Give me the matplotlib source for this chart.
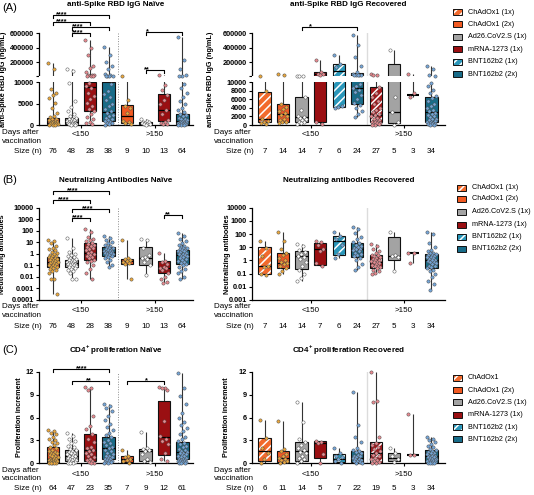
import numpy as np
import matplotlib.pyplot as plt
from matplotlib.patches import Rectangle
from matplotlib.transforms import blended_transform_factory
from matplotlib.ticker import NullLocator

plt.rcParams['font.family'] = ['Liberation Sans', 'DejaVu Sans']
plt.rcParams['mathtext.fontset'] = 'custom'
plt.rcParams['mathtext.rm'] = 'Liberation Sans:bold'
plt.rcParams['mathtext.bf'] = 'Liberation Sans:bold'
plt.rcParams['hatch.linewidth'] = 1.1

### Data
legend_ab = ['ChAdOx1 (1x)', 'ChAdOx1 (2x)', 'Ad26.CoV2.S (1x)', 'mRNA-1273 (1x)', 'BNT162b2 (1x)', 'BNT162b2 (2x)']
legend_c = ['ChAdOx1', 'ChAdOx1 (2x)', 'Ad26.CoV2.S (1x)', 'mRNA-1273 (1x)', 'BNT162b2 (1x)', 'BNT162b2 (2x)']
period_labels = ['<150', '>150']

n_ab_naive = [76, 48, 28, 38, 9, 10, 13, 64]
n_ab_rec = [7, 14, 14, 7, 6, 24, 27, 5, 3, 34]
n_c_naive = [64, 47, 23, 35, 7, 9, 12, 61]
n_c_rec = [6, 11, 14, 5, 7, 22, 19, 5, 3, 34]

# box stats: (min, q1, median, q3, max)
a_naive_stats = [(30, 150, 500, 1550, 195000), (40, 250, 650, 1550, 110000), (250, 3300, 8900, 10000, 500000),
                 (100, 1000, 3000, 10000, 410000), (300, 500, 2000, 4700, 15000), (50, 150, 350, 700, 1300),
                 (150, 1000, 3500, 7200, 20000), (50, 200, 900, 2600, 550000)]
a_naive_pts = [
    [195000, 100000, 8300, 7400, 6900, 6300, 5100, 3900, 2800, 2200, 1800, 1500, 1300, 1100, 950, 800, 700, 600,
     500, 420, 350, 300, 250, 200, 150, 100, 60, 30],
    [110000, 80000, 9800, 5600, 4300, 3200, 2500, 2000, 1700, 1500, 1300, 1100, 950, 850, 750, 650, 550, 480, 400,
     340, 280, 220, 170, 120, 80, 40],
    [500000, 400000, 300000, 150000, 120000, 70000, 25000, 20000, 18000, 15000, 13000, 12000, 9800, 9000, 8500,
     7500, 6800, 6000, 5200, 4500, 3800, 3200, 2600, 1900, 1300, 800, 500, 250],
    [410000, 300000, 200000, 150000, 100000, 40000, 20000, 15000, 13000, 12000, 11000, 9500, 8000, 7200, 6500, 5800,
     5000, 4400, 3800, 3200, 2800, 2400, 2000, 1700, 1400, 1100, 900, 700, 500, 350, 200, 100],
    [15000, 5800, 4500, 3900, 2800, 900, 700, 500, 300],
    [1300, 1000, 800, 700, 500, 400, 300, 200, 150, 50],
    [20000, 9200, 8200, 7000, 5800, 4800, 3600, 2500, 1200, 800, 500, 300, 150],
    [550000, 230000, 100000, 20000, 15000, 12000, 9500, 8500, 7500, 6500, 5500, 4800, 4000, 3500, 3000, 2600, 2300,
     2000, 1700, 1500, 1300, 1100, 950, 800, 700, 600, 500, 420, 350, 300, 250, 200, 150, 100, 70, 50]]

a_rec_stats = [(200, 800, 1500, 7700, 15000), (400, 600, 2600, 5000, 40000), (150, 700, 1900, 6400, 15000),
               (300, 700, 35000, 70000, 230000), (3900, 4200, 72000, 170000, 300000), (1900, 5000, 8500, 56000, 570000),
               (50, 600, 2300, 8900, 34000), (100, 450, 3000, 180000, 360000), (6500, 7000, 7000, 7000, 40000),
               (50, 600, 3100, 6600, 150000)]
a_rec_pts = [
    [15000, 7800, 1500, 1000, 700, 400, 200],
    [40000, 30000, 5000, 4300, 3800, 3200, 2800, 2400, 2000, 1500, 1100, 800, 600, 400],
    [15000, 15000, 15000, 6500, 3500, 2200, 1900, 1700, 1400, 1100, 800, 600, 350, 150],
    [230000, 60000, 40000, 35000, 30000, 700, 300],
    [300000, 170000, 140000, 4400, 4200, 4000],
    [570000, 430000, 270000, 150000, 60000, 40000, 30000, 28000, 25000, 20000, 18000, 9500, 9000, 8600, 8200, 7600,
     7000, 6000, 5200, 4600, 4000, 3200, 2500, 1900],
    [34000, 28000, 22000, 8800, 7500, 6500, 5500, 4800, 4000, 3500, 3000, 2600, 2300, 2000, 1700, 1400, 1200, 1000,
     800, 700, 600, 500, 400, 300, 200, 100, 50],
    [360000, 6600, 3000, 800, 100],
    [40000, 7500, 6500],
    [150000, 100000, 20000, 15000, 9800, 9000, 8200, 7500, 6800, 6200, 5600, 5000, 4500, 4000, 3600, 3200, 2900, 2600,
     2300, 2000, 1800, 1500, 1300, 1100, 900, 700, 600, 500, 400, 300, 200, 150, 100, 50]]

b_naive_stats = [(0.0003, 0.08, 0.2, 0.55, 15), (0.006, 0.08, 0.15, 0.29, 22), (0.006, 0.29, 1.3, 8, 150),
                 (0.066, 0.7, 1.5, 3.6, 35), (0.006, 0.12, 0.22, 0.35, 15), (0.015, 0.1, 0.4, 4.2, 20),
                 (0.003, 0.02, 0.055, 0.25, 1.3), (0.006, 0.12, 0.8, 2, 60)]
b_naive_pts = [
    [15, 12, 8, 5, 3.5, 2.5, 2, 1.5, 1.2, 1, 0.85, 0.7, 0.6, 0.5, 0.45, 0.4, 0.35, 0.3, 0.27, 0.24, 0.21, 0.19, 0.17,
     0.15, 0.13, 0.11, 0.1, 0.09, 0.08, 0.07, 0.06, 0.05, 0.04, 0.03, 0.02, 0.006, 0.006, 0.0003],
    [22, 3, 1.5, 1, 0.8, 0.6, 0.5, 0.4, 0.35, 0.3, 0.27, 0.24, 0.21, 0.19, 0.17, 0.15, 0.14, 0.13, 0.12, 0.11, 0.1,
     0.09, 0.08, 0.07, 0.06, 0.05, 0.04, 0.03, 0.02, 0.006, 0.006],
    [150, 80, 30, 20, 15, 12, 9, 7, 6, 5, 4, 3, 2.5, 2, 1.5, 1.2, 1, 0.8, 0.6, 0.5, 0.4, 0.3, 0.25, 0.2, 0.1, 0.05,
     0.02, 0.006],
    [35, 25, 15, 10, 8, 6, 5, 4, 3.5, 3, 2.6, 2.3, 2, 1.8, 1.6, 1.5, 1.4, 1.3, 1.2, 1.1, 1, 0.9, 0.8, 0.7, 0.6, 0.5,
     0.4, 0.3, 0.2, 0.1, 0.066],
    [15, 0.4, 0.33, 0.28, 0.22, 0.18, 0.15, 0.12, 0.006],
    [20, 15, 3, 0.8, 0.5, 0.4, 0.35, 0.2, 0.1, 0.015],
    [1.3, 0.25, 0.2, 0.12, 0.08, 0.06, 0.055, 0.04, 0.02, 0.01, 0.006, 0.004, 0.003],
    [60, 35, 20, 12, 8, 6, 5, 4, 3.5, 3, 2.5, 2.2, 2, 1.8, 1.6, 1.4, 1.2, 1, 0.9, 0.8, 0.7, 0.6, 0.5, 0.4, 0.35, 0.3,
     0.25, 0.2, 0.15, 0.12, 0.1, 0.08, 0.05, 0.03, 0.02, 0.01, 0.006]]

b_rec_stats = [(0.08, 0.1, 0.35, 10, 30), (0.1, 0.25, 0.6, 4, 150), (0.028, 0.23, 2, 5.2, 17), (0.4, 0.45, 8, 20, 30),
               (1.5, 2.6, 30, 76, 150), (0.19, 1.9, 8, 20, 360), (0.09, 0.25, 0.8, 2.6, 17), (0.16, 1.1, 2, 64, 150),
               (0.6, 3.5, 3.5, 3.5, 3.5), (0.006, 0.25, 1.1, 2.9, 150)]
b_rec_pts = [
    [30, 9, 2, 0.4, 0.3, 0.1, 0.08],
    [150, 30, 8, 4, 2.5, 1.5, 1, 0.8, 0.6, 0.5, 0.35, 0.25, 0.15, 0.1],
    [17, 12, 6, 4.5, 3, 2.2, 1.8, 1.2, 0.8, 0.4, 0.2, 0.1, 0.05, 0.028],
    [30, 25, 15, 8, 5, 0.6, 0.4],
    [150, 70, 40, 15, 3, 1.5],
    [360, 250, 120, 60, 40, 25, 20, 15, 12, 10, 9, 8, 7, 6, 5, 4, 3, 2.5, 2, 1.5, 1, 0.5, 0.3, 0.19],
    [17, 12, 8, 5, 3.5, 2.8, 2.4, 2, 1.7, 1.5, 1.3, 1.1, 1, 0.9, 0.8, 0.7, 0.6, 0.5, 0.45, 0.4, 0.35, 0.3, 0.25, 0.2,
     0.15, 0.12, 0.09],
    [150, 2.5, 2, 1.8, 0.16],
    [3.5, 3.5, 0.6],
    [150, 100, 20, 10, 6, 5, 4, 3.5, 3, 2.7, 2.4, 2.1, 1.9, 1.7, 1.5, 1.3, 1.1, 1, 0.9, 0.8, 0.7, 0.6, 0.5, 0.4, 0.35,
     0.3, 0.25, 0.2, 0.15, 0.1, 0.06, 0.03, 0.015, 0.006]]

c_naive_stats = [(0, 0.1, 0.6, 2.2, 4.4), (0, 0.3, 1.0, 1.7, 4.0), (0.05, 0.3, 1.8, 3.85, 10), (0.05, 0.5, 2.0, 3.5, 7.8),
                 (0.1, 0.2, 0.5, 0.95, 1.8), (0.2, 0.3, 1.6, 1.9, 4.1), (0.3, 1.1, 3.4, 8.1, 10), (0, 0.5, 1.5, 2.8, 11.8)]
c_naive_pts = [
    [4.4, 4.2, 4, 3.8, 3.5, 3.2, 3, 2.8, 2.6, 2.4, 2.2, 2, 1.8, 1.6, 1.5, 1.4, 1.3, 1.2, 1.1, 1, 0.9, 0.8, 0.7, 0.6,
     0.5, 0.45, 0.4, 0.35, 0.3, 0.25, 0.2, 0.15, 0.1, 0.08, 0.05, 0.02, 0],
    [4, 3.6, 3.2, 2.9, 2.6, 2.3, 2.1, 1.9, 1.7, 1.6, 1.5, 1.4, 1.3, 1.2, 1.1, 1, 0.9, 0.8, 0.7, 0.6, 0.5, 0.45, 0.4,
     0.3, 0.2, 0.15, 0.1, 0.05, 0],
    [10, 9.8, 9.6, 6.2, 4.9, 4.5, 3.8, 3.2, 2.8, 2.2, 2, 1.8, 1.6, 1.4, 1.2, 1, 0.8, 0.6, 0.4, 0.3, 0.2, 0.1, 0.05],
    [7.8, 7.5, 7.2, 6.8, 6.2, 5.7, 5.2, 4.8, 4.4, 4, 3.7, 3.4, 3.1, 2.8, 2.6, 2.4, 2.2, 2, 1.8, 1.6, 1.4, 1.2, 1, 0.9,
     0.8, 0.7, 0.6, 0.5, 0.4, 0.3, 0.25, 0.2, 0.15, 0.1, 0.05],
    [1.8, 1.0, 0.8, 0.5, 0.4, 0.3, 0.1],
    [4.1, 2, 1.9, 1.8, 1.6, 1.2, 0.6, 0.3, 0.2],
    [10, 9.8, 9.8, 9.6, 5.6, 3.6, 3.2, 2.9, 2.5, 1.3, 0.5, 0.3],
    [11.8, 9.8, 8.8, 7.8, 6.6, 6, 5.4, 5, 4.6, 4.2, 3.8, 3.5, 3.2, 2.9, 2.7, 2.5, 2.3, 2.1, 1.9, 1.7, 1.6, 1.5, 1.4,
     1.3, 1.2, 1.1, 1, 0.9, 0.8, 0.7, 0.6, 0.5, 0.45, 0.4, 0.35, 0.3, 0.25, 0.2, 0.15, 0.1, 0.05, 0]]

c_rec_stats = [(0.1, 0.3, 1.6, 3.3, 5.7), (0.1, 0.15, 0.65, 1.65, 5.5), (0.1, 0.25, 1.6, 2.75, 8), (0.1, 0.7, 2.6, 2.9, 2.9),
               (0.1, 0.2, 0.6, 1.2, 2.0), (0.05, 0.13, 0.75, 1.66, 9.4), (0.05, 0.1, 1.3, 2.75, 12), (0.2, 0.3, 0.7, 1.3, 2),
               (1.1, 1.1, 1.1, 1.1, 6.5), (0.05, 0.1, 0.9, 1.75, 3.4)]
c_rec_pts = [
    [5.7, 3.3, 2, 1.3, 0.5, 0.1],
    [5.5, 1.9, 1.6, 1.2, 0.9, 0.7, 0.5, 0.4, 0.3, 0.2, 0.1],
    [8, 5.4, 3.2, 2.8, 2.4, 2, 1.8, 1.5, 1.3, 1, 0.7, 0.5, 0.3, 0.1],
    [2.9, 2.8, 2.6, 1.2, 0.1],
    [2, 1.3, 1, 0.8, 0.6, 0.3, 0.1],
    [9.4, 5, 3.5, 2.8, 2, 1.8, 1.6, 1.5, 1.3, 1.1, 1, 0.9, 0.8, 0.7, 0.6, 0.5, 0.4, 0.3, 0.3, 0.2, 0.1, 0.05],
    [12, 8.2, 8.0, 3.5, 2.7, 2.4, 2.2, 1.9, 1.6, 1.3, 1.1, 0.9, 0.7, 0.5, 0.4, 0.3, 0.2, 0.1, 0.05],
    [2, 1.3, 1, 0.5, 0.2],
    [6.5, 1.1, 1.1],
    [3.4, 3.2, 3, 2.8, 2.5, 2.3, 2.1, 1.9, 1.7, 1.6, 1.5, 1.4, 1.3, 1.2, 1.1, 1, 0.95, 0.9, 0.85, 0.8, 0.7, 0.6, 0.5,
     0.45, 0.4, 0.35, 0.3, 0.25, 0.2, 0.15, 0.1, 0.1, 0.05, 0.05]]

# significance brackets: (group a, group b, line y in px, label, label x in group units)
a_naive_sig = [(1, 4, 15, '****', 1.45), (1, 3, 22, '****', 1.45), (2, 4, 27, '****', 2.35), (2, 3, 33, '****', 2.35),
               (6, 8, 32, '*', 6.1), (6, 7, 70, '**', 6.1)]
a_rec_sig = [(3, 6, 27, '*', 3.45)]
b_naive_sig = [(1, 4, 191, '****', 2.05), (1, 3, 200, '****', 1.55), (2, 4, 209, '****', 2.85), (2, 3, 218, '****', 2.35),
               (7, 8, 215, '**', 7.2)]
c_naive_sig = [(1, 4, 369, '****', 2.55), (2, 4, 381, '**', 2.95), (5, 7, 381, '*', 6.05)]

### Styling
W, H = 534, 495
ORANGE, ORANGE_H = '#F15A22', '#F26A2C'
GRAY, RED, RED_H = '#A3A3A3', '#9A0F12', '#A3171B'
TEAL, TEAL_H = '#186C89', '#2A97BA'
GOLD, WHITE, PINK, BLUE = '#EAA73C', '#FFFFFF', '#E88A90', '#74A6D9'
BOX = {'orange': (ORANGE, None), 'orange_h': (ORANGE_H, '////'), 'gray': (GRAY, None), 'red': (RED, None),
       'red_h': (RED_H, '////'), 'teal': (TEAL, None), 'teal_h': (TEAL_H, '////')}
naive_boxes = ['orange', 'gray', 'red', 'teal', 'orange', 'gray', 'red', 'teal']
naive_cols = [GOLD, WHITE, PINK, BLUE, GOLD, WHITE, PINK, BLUE]
rec_boxes = ['orange_h', 'orange', 'gray', 'red', 'teal_h', 'teal', 'red_h', 'gray', 'line', 'teal']
rec_cols = [GOLD, GOLD, WHITE, PINK, BLUE, BLUE, PINK, WHITE, PINK, BLUE]
legend_keys = ['orange_h', 'orange', 'gray', 'red', 'teal_h', 'teal']

FS = 5.8
TFS = 5.3
BW = 0.66

fig = plt.figure(figsize=(W / 100, H / 100), dpi=100)


def fy(py):
    return 1 - py / H


def add_ax(l, r, t, b):
    return fig.add_axes([l / W, 1 - b / H, (r - l) / W, (b - t) / H])


def draw_groups(ax, stats, pts, boxes, cols):
    for i, (st, vals, bx, pc) in enumerate(zip(stats, pts, boxes, cols)):
        x = i + 1
        lo, q1, med, q3, hi = st
        ax.vlines(x, lo, q1, color='#333333', lw=0.8, zorder=1.5)
        ax.vlines(x, q3, hi, color='#333333', lw=0.8, zorder=1.5)
        if bx == 'line':
            ax.hlines(med, x - BW / 2, x + BW / 2, color='black', lw=1.5, zorder=2.2)
        else:
            fc, hatch = BOX[bx]
            if hatch:
                ax.add_patch(Rectangle((x - BW / 2, q1), BW, q3 - q1, facecolor=fc, edgecolor='white',
                                       lw=0, hatch=hatch, zorder=2))
            else:
                ax.add_patch(Rectangle((x - BW / 2, q1), BW, q3 - q1, facecolor=fc, edgecolor='none', zorder=2))
            ax.add_patch(Rectangle((x - BW / 2, q1), BW, q3 - q1, facecolor='none', edgecolor='#111111',
                                   lw=0.8, zorder=2.1))
            ax.hlines(med, x - BW / 2, x + BW / 2, color='black', lw=0.9, zorder=2.2)
        n = len(vals)
        offs = ((np.arange(n) * 0.618034) % 1 - 0.5) * 0.5
        ax.scatter(x + offs, vals, s=5.5, c=pc, edgecolors='#4d4d4d', linewidths=0.35, zorder=4, clip_on=False)


def style_axis(ax, xlim, xt, sep, naive):
    ax.set_xlim(*xlim)
    for s in ['top', 'right']:
        ax.spines[s].set_visible(False)
    for s in ['left', 'bottom']:
        ax.spines[s].set_linewidth(0.9)
    ax.set_xticks(xt)
    ax.set_xticklabels([])
    ax.tick_params(axis='both', direction='out', length=2.5, width=0.8, labelsize=TFS, pad=1.2)
    ax.yaxis.set_minor_locator(NullLocator())
    if naive:
        ax.axvline(sep, color='#8c8c8c', lw=0.7, ls=(0, (1, 1.6)), zorder=1)
    else:
        ax.axvline(sep, color='#dcdcdc', lw=1.0, zorder=1)


def set_ylab(ax, text, xpx, lr):
    ax.set_ylabel(text, fontsize=5.2, fontweight='bold')
    ax.yaxis.set_label_coords((xpx - lr[0]) / (lr[1] - lr[0]), 0.5)


def below_text(ax, sizes, xt, rows, naive):
    tr = blended_transform_factory(ax.transData, fig.transFigure)
    days_y, grp_y, vac_y, size_y = rows
    x0 = 2 / W if naive else 214 / W
    fig.text(x0, fy(days_y), 'Days after', fontsize=FS, va='center', ha='left')
    fig.text(x0, fy(vac_y), 'vaccination', fontsize=FS, va='center', ha='left')
    fig.text((42 if naive else 254) / W, fy(size_y), 'Size (n)', fontsize=FS, va='center', ha='right')
    for x, lab in zip(xt, period_labels):
        ax.text(x, fy(grp_y), lab, transform=tr, fontsize=FS, ha='center', va='center')
    for i, n in enumerate(sizes):
        ax.text(i + 1, fy(size_y), str(n), transform=tr, fontsize=FS, ha='center', va='center')


def brackets(ax, sig):
    tr = blended_transform_factory(ax.transData, fig.transFigure)
    for a, b, ypx, lab, sx in sig:
        ax.plot([a, a, b, b], [fy(ypx + 2.5), fy(ypx), fy(ypx), fy(ypx + 2.5)], transform=tr, color='black',
                lw=0.8, clip_on=False)
        ax.text(sx, fy(ypx + 1.6), lab, transform=tr, fontsize=5.3, fontweight='bold', ha='center', va='baseline')


def legend(x0, xt, ys, labels):
    for key, y, lab in zip(legend_keys, ys, labels):
        fc, hatch = BOX[key]
        r = (x0 / W, fy(y + 3), 9 / W, 6 / H)
        if hatch:
            fig.add_artist(Rectangle(r[:2], r[2], r[3], transform=fig.transFigure, facecolor=fc, edgecolor='white',
                                     lw=0, hatch=hatch))
        else:
            fig.add_artist(Rectangle(r[:2], r[2], r[3], transform=fig.transFigure, facecolor=fc, edgecolor='none'))
        fig.add_artist(Rectangle(r[:2], r[2], r[3], transform=fig.transFigure, facecolor='none',
                                 edgecolor='#111111', lw=0.7))
        fig.text(xt / W, fy(y), lab, fontsize=5.2, va='center', ha='left')


# broken axis for panel A: linear 0-10000, gap, then 10000-600000
BRK_IN = [-1e6, 0, 10000, 10001, 600000, 1e7]
BRK_OUT = [-4300, 0, 43, 49, 92, 777]


def fwd(v):
    return np.interp(v, BRK_IN, BRK_OUT)


def inv(t):
    return np.interp(t, BRK_OUT, BRK_IN)


NAIVE_X = (0.236, 8.57)
REC_X = (0.326, 10.73)
naive_lr = (39, 193)
rec_lr = (252, 445)

### Panel A
for naive in [True, False]:
    lr = naive_lr if naive else rec_lr
    ax = add_ax(lr[0], lr[1], 33, 125)
    ax.set_yscale('function', functions=(fwd, inv))
    draw_groups(ax, a_naive_stats if naive else a_rec_stats, a_naive_pts if naive else a_rec_pts,
                naive_boxes if naive else rec_boxes, naive_cols if naive else rec_cols)
    ax.set_ylim(0, 600000)
    xt = [2.5, 6.5] if naive else [3.5, 8.5]
    style_axis(ax, NAIVE_X if naive else REC_X, xt, 4.5 if naive else 6.5, naive)
    low = [0, 5000, 10000] if naive else [0, 2000, 4000, 6000, 8000, 10000]
    ax.set_yticks(low + [10001, 200000, 400000, 600000], [str(v) for v in low] + ['', '200000', '400000', '600000'])
    for lab in ax.get_yticklabels():
        lab.set_fontweight('bold')
    ax.axhspan(10000, 10001, facecolor='white', edgecolor='none', zorder=3)
    ax.spines['left'].set_bounds(0, 10000)
    ax.plot([0, 0], [10001, 600000], transform=ax.get_yaxis_transform(), color='black', lw=0.9, clip_on=False)
    set_ylab(ax, 'anti-Spike RBD IgG (ng/mL)', 7 if naive else 214, lr)
    below_text(ax, n_ab_naive if naive else n_ab_rec, xt, (133, 134, 141.5, 151.5), naive)
    brackets(ax, a_naive_sig if naive else a_rec_sig)
    fig.text(((lr[0] + lr[1]) / 2) / W, fy(5),
             'anti-Spike RBD IgG Naïve' if naive else 'anti-Spike RBD IgG Recovered',
             fontsize=FS, fontweight='bold', ha='center', va='center')

### Panel B
for naive in [True, False]:
    lr = naive_lr if naive else rec_lr
    ax = add_ax(lr[0], lr[1], 207.7, 300)
    ax.set_yscale('log')
    draw_groups(ax, b_naive_stats if naive else b_rec_stats, b_naive_pts if naive else b_rec_pts,
                naive_boxes if naive else rec_boxes, naive_cols if naive else rec_cols)
    lo = 0.0001 if naive else 0.001
    ax.set_ylim(lo, 10000)
    xt = [2.5, 6.5] if naive else [3.5, 8.5]
    style_axis(ax, NAIVE_X if naive else REC_X, xt, 4.5 if naive else 6.5, naive)
    ticks = [0.0001, 0.001, 0.01, 0.1, 1, 10, 100, 1000, 10000]
    labs = ['0.0001', '0.001', '0.01', '0.1', '1', '10', '100', '1000', '10000']
    k = 0 if naive else 1
    ax.set_yticks(ticks[k:], labs[k:])
    ax.yaxis.set_minor_locator(NullLocator())
    for lab in ax.get_yticklabels():
        lab.set_fontweight('bold')
    set_ylab(ax, 'Neutralizing antibodies', 6 if naive else 231, lr)
    below_text(ax, n_ab_naive if naive else n_ab_rec, xt, (306.7, 310.7, 315.7, 327), naive)
    if naive:
        brackets(ax, b_naive_sig)
    fig.text(((lr[0] + lr[1]) / 2) / W, fy(180),
             'Neutralizing Antibodies Naïve' if naive else 'Neutralizing antibodies Recovered',
             fontsize=FS, fontweight='bold', ha='center', va='center')

### Panel C
for naive in [True, False]:
    lr = naive_lr if naive else rec_lr
    ax = add_ax(lr[0], lr[1], 371.7, 463.3)
    draw_groups(ax, c_naive_stats if naive else c_rec_stats, c_naive_pts if naive else c_rec_pts,
                naive_boxes if naive else rec_boxes, naive_cols if naive else rec_cols)
    ax.set_ylim(0, 12)
    xt = [2.5, 6.5] if naive else [3.5, 8.5]
    style_axis(ax, NAIVE_X if naive else REC_X, xt, 4.5 if naive else 6.5, naive)
    ax.set_yticks([0, 3, 6, 9, 12], ['0', '3', '6', '9', '12'])
    for lab in ax.get_yticklabels():
        lab.set_fontweight('bold')
    set_ylab(ax, 'Proliferation increment', 23 if naive else 230, lr)
    below_text(ax, n_c_naive if naive else n_c_rec, xt, (470, 474, 479, 489), naive)
    if naive:
        brackets(ax, c_naive_sig)
    fig.text(((lr[0] + lr[1]) / 2) / W, fy(350),
             r'CD4$^{+}$ proliferation Naïve' if naive else r'CD4$^{+}$ proliferation Recovered',
             fontsize=FS, fontweight='bold', ha='center', va='center')

### Panel letters and legends
fig.text(2 / W, fy(8), '(A)', fontsize=8, va='center', ha='left')
fig.text(2 / W, fy(180), '(B)', fontsize=8, va='center', ha='left')
fig.text(2 / W, fy(350), '(C)', fontsize=8, va='center', ha='left')

legend(453, 468, [12.3, 24.3, 36.7, 49.3, 61.7, 74], legend_ab)
legend(457, 472, [187.7, 199, 211.7, 225, 236.7, 249], legend_ab)
legend(453, 468, [377.7, 390, 402.3, 415, 427.3, 439.3], legend_c)

fig.savefig('out.png', dpi=100)
